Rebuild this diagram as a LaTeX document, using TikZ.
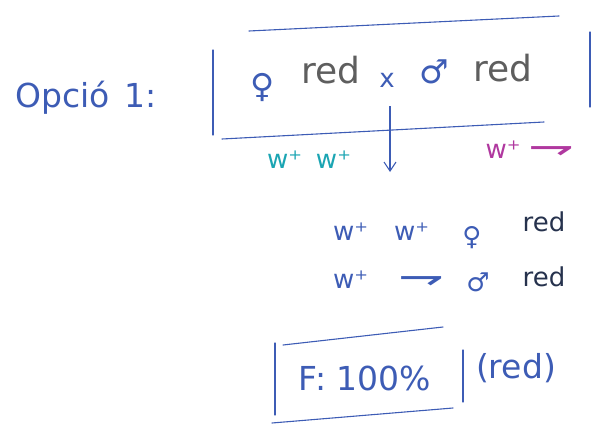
\documentclass[tikz,border=0pt]{standalone}
\usepackage{fontspec}
\usepackage{graphicx}
\setmainfont{DejaVu Sans}
\usetikzlibrary{arrows.meta,positioning}
\definecolor{ink}{HTML}{3D5CB5}
\definecolor{tealink}{HTML}{1BA5B3}
\definecolor{plum}{HTML}{B0389F}
\definecolor{pencil}{HTML}{5E5E5E}
\definecolor{darkink}{HTML}{26324D}
\newcommand\yhook{\raisebox{-1pt}{\scalebox{2.1}[1.4]{⇁}}}
\tikzset{hand/.style={inner sep=0pt,text=ink,font=\fontsize{26}{28}\selectfont},
  big/.style={hand,font=\fontsize{33}{35}\selectfont},
  frame/.style={draw=ink,line width=1.1pt,line cap=round},
  arrow/.style={-{Straight Barb[length=9pt,width=12pt]},line width=1.1pt,draw=ink}}
\begin{document}
\begin{tikzpicture}[x=1pt,y=-1pt]
\useasboundingbox (0,0) rectangle (597,428);
% the cross
\node[big,anchor=west] (opt) at (15,98) {Opció\hspace{4pt} 1:};
\node[big] (fem) at (263,88) {♀};
\node[big,text=pencil,font=\fontsize{36}{38}\selectfont] (redf) at (331,70) {red};
\node[hand] (cross) at (387,80) {x};
\node[big] (male) at (434,72) {♂};
\node[big,text=pencil,font=\fontsize{36}{38}\selectfont] (redm) at (503,68) {red};
\draw[frame] (249,31) -- (559,16);
\draw[frame] (213,50) -- (213,135);
\draw[frame] (590,32) -- (590,107);
\draw[frame] (222,139) -- (544,122);
% gametes
\coordinate (from) at (390,106);
\coordinate (to) at (390,172);
\draw[arrow] (from) -- (to);
\node[hand,text=tealink] (gamf) at (309,160) {w⁺\hspace{14pt}w⁺};
\node[hand,text=plum] (gamm) at (530,150) {w⁺\hspace{8pt}\yhook};
% offspring
\node[hand,anchor=west] (w1) at (333,232) {w⁺\hspace{26pt}w⁺};
\node[hand] (fem2) at (472,238) {♀};
\node[hand,text=darkink] (red1) at (544,222) {red};
\node[hand,anchor=west] (w2) at (333,280) {w⁺\hspace{30pt}\yhook};
\node[hand] (male2) at (478,282) {♂};
\node[hand,text=darkink] (red2) at (544,277) {red};
% result
\node[big] (res) at (365,378) {F: 100\%};
\node[big] (col) at (516,368) {(red)};
\draw[frame] (275,343) -- (275,415);
\draw[frame] (283,345) -- (443,327);
\draw[frame] (463,350) -- (463,402);
\draw[frame] (272,423) -- (453,408);
\end{tikzpicture}
\end{document}
